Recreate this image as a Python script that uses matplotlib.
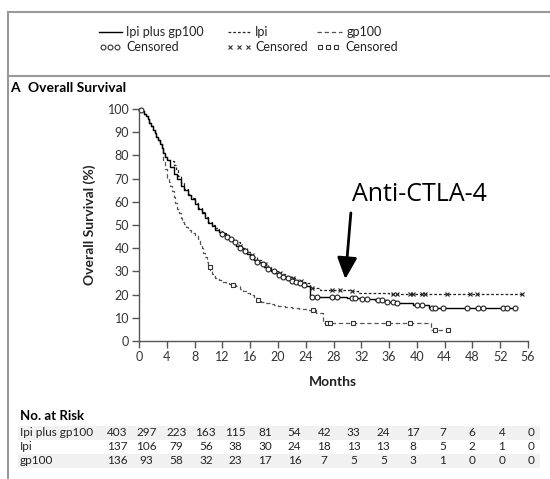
import numpy as np
import matplotlib.pyplot as plt
from matplotlib.lines import Line2D

plt.rcParams['font.family'] = ['Lato', 'DejaVu Sans']

# Kaplan-Meier curves (months, survival %)
ipi_gp_t = [0, 0.25, 0.5, 0.75, 1, 1.25, 1.5, 1.75, 2, 2.25, 2.5, 2.75, 3, 3.25, 3.5, 3.75, 4,
            4.5, 5, 5.5, 6, 6.5, 7, 7.5, 8, 8.5, 9, 9.5, 10, 10.5, 11, 11.5, 12, 12.5, 13, 13.5,
            14, 14.5, 15, 15.5, 16, 16.5, 17, 17.5, 18, 18.5, 19, 19.5, 20, 20.5, 21, 21.5, 22,
            22.5, 23, 23.5, 24, 24.6, 30, 32, 34, 35.5, 37, 39.5, 41.8, 54.4]
ipi_gp_s = [100, 99.5, 99, 98, 97, 95.5, 94, 92.5, 91, 89.5, 88, 86.5, 85, 83, 81, 79.5, 78,
            75, 72, 70, 67, 65, 63, 61, 59, 57, 55, 53, 51, 49.5, 48, 47, 46, 45, 44, 42.5,
            41, 40, 39, 37.5, 36, 35, 34, 33, 32, 31, 30, 29.2, 28.5, 27.7, 27, 26.5, 26,
            25.5, 25, 24.2, 23.5, 19, 18.5, 18, 17.5, 16.8, 16.4, 15.5, 14.2, 14.2]

ipi_t = [0, 0.25, 0.5, 0.75, 1, 1.25, 1.5, 1.75, 2, 2.25, 2.5, 2.75, 3, 3.25, 3.5, 3.75, 4,
         4.5, 5, 5.3, 5.6, 6, 6.5, 7, 7.5, 8, 8.5, 9, 9.5, 10, 10.5, 11, 11.5, 12, 12.5, 13,
         13.5, 14, 14.5, 15, 15.5, 16, 16.5, 17, 17.5, 18, 18.5, 19, 19.5, 20, 20.5, 21, 21.5,
         22, 22.5, 23, 23.5, 24, 24.6, 26, 30.5, 31.5, 36, 55.1]
ipi_s = [100, 99.5, 99, 98, 97, 95.5, 94, 92.5, 91, 89.5, 88, 86.5, 85, 83, 81, 79.5, 78,
         77.5, 76, 74, 71, 68, 65.5, 63.5, 61.5, 59.5, 57.5, 55.5, 53.5, 51.5, 50, 48.5, 47.5,
         46.5, 45.5, 44.5, 43.5, 42.5, 41, 40, 38.5, 37, 36, 35, 34, 33, 32, 31, 30.2, 29.5,
         28.7, 28, 27.5, 27, 26.5, 26, 25.5, 25, 23, 22, 21.5, 20.7, 20.3, 20.3]

gp_t = [0, 0.25, 0.5, 0.75, 1, 1.25, 1.5, 1.75, 2, 2.25, 2.5, 2.75, 3, 3.25, 3.5, 3.75, 4,
        4.25, 4.5, 4.75, 5, 5.25, 5.5, 5.75, 6, 6.25, 6.5, 6.75, 7, 7.5, 8, 8.5, 8.75, 9, 9.25,
        9.5, 9.75, 10, 10.25, 10.5, 10.75, 11, 11.5, 12, 12.5, 13, 13.5, 14, 14.5, 15, 15.5,
        16, 16.5, 17, 17.5, 18, 18.5, 19, 19.5, 20, 21, 22, 23, 24, 25.5, 26.5, 42, 44.8]
gp_s = [100, 99.5, 99, 98, 97, 95.5, 94, 92.5, 91, 89.5, 88, 86.5, 85, 83, 78, 74, 70,
        68.5, 67, 64.5, 62, 59.5, 57, 55, 53, 51.5, 50.5, 49, 48, 46.5, 45.5, 44, 42, 40, 38,
        36, 34, 32, 30.5, 29, 28, 27, 26.3, 25.5, 25, 24.5, 24, 23.5, 22.5, 21.5, 20.8,
        20, 18.8, 17.5, 17, 16.5, 16.2, 15.8, 15.4, 15, 14.6, 14.2, 13.8, 13.4, 12, 7.8, 4.7, 4.7]

# censored times
ipi_gp_cens = [0.3, 12, 12.6, 13.2, 13.8, 14.5, 15.3, 16.2, 17, 17.8, 18.6, 19.4, 20.2, 20.8, 21.4,
               22, 22.6, 23.2, 23.8, 24.9, 25.6, 27.8, 28.5, 30.7, 31.1, 32.1, 32.8, 34.4, 35.0,
               35.7, 36.6, 37.2, 40.0, 40.8, 42.2, 42.6, 43.8, 47.2, 48.8, 49.5, 52.4, 53.0, 54.1]
ipi_cens = [14.5, 16.3, 18.2, 20.3, 22.1, 23.3, 24.9, 27.8, 28.9, 30.7, 36.6, 37.2, 39.0, 39.5,
            40.8, 41.2, 44.3, 47.7, 48.7, 55.1]
gp_cens = [10.2, 13.5, 17.2, 25.1, 27.1, 27.5, 30.8, 35.9, 39.0, 42.6, 44.5]

months_ticks = list(range(0, 57, 4))
surv_ticks = list(range(0, 101, 10))

risk_labels = ['Ipi plus gp100', 'Ipi', 'gp100']
risk_ipi_gp = [403, 297, 223, 163, 115, 81, 54, 42, 33, 24, 17, 7, 6, 4, 0]
risk_ipi = [137, 106, 79, 56, 38, 30, 24, 18, 13, 13, 8, 5, 2, 1, 0]
risk_gp = [136, 93, 58, 32, 23, 17, 16, 7, 5, 5, 3, 1, 0, 0, 0]


def surv_at(times, t, s):
    idx = np.searchsorted(t, times, side='right') - 1
    return np.array(s)[idx]


fig = plt.figure(figsize=(5.5, 4.79), dpi=100)

# overlay in pixel coords for frame, legend and risk table
ov = fig.add_axes([0, 0, 1, 1])
ov.set_xlim(0, 550)
ov.set_ylim(479, 0)
ov.axis('off')

ax = fig.add_axes([139 / 550, 1 - 341 / 479, 389 / 550, 232 / 479])

frame_c = '#9a9a9a'
ov.plot([8, 8], [12, 479], color=frame_c, lw=1.5)
ov.plot([8, 550], [12, 12], color=frame_c, lw=1.5)
ov.plot([8, 550], [76, 76], color=frame_c, lw=1.5)

styles = {
    'solid': dict(color='black', lw=1.0, ls='-'),
    'ipi': dict(color='#222222', lw=0.9, ls=(0, (2.2, 1.6))),
    'gp': dict(color='#555555', lw=0.9, ls=(0, (3.5, 2.2))),
}

# legend
ov.add_line(Line2D([99, 122], [32, 32], **styles['solid']))
ov.add_line(Line2D([228, 250], [32, 32], **styles['ipi']))
ov.add_line(Line2D([317, 342], [32, 32], **styles['gp']))
ov.text(126, 32, 'Ipi plus gp100', fontsize=9, va='center', color='#222')
ov.text(255, 32, 'Ipi', fontsize=9, va='center', color='#222')
ov.text(347, 32, 'gp100', fontsize=9, va='center', color='#222')
ov.plot([103, 110, 117], [47, 47, 47], ls='none', marker='o', ms=3.5, mfc='white', mec='#333', mew=0.8)
ov.plot([230, 239, 248], [47, 47, 47], ls='none', marker='x', ms=3, mec='#333', mew=0.8)
ov.plot([320, 328, 336], [47, 47, 47], ls='none', marker='s', ms=3.2, mfc='white', mec='#333', mew=0.8)
for x0 in [126, 255, 345]:
    ov.text(x0, 47, 'Censored', fontsize=9, va='center', color='#222')

ov.text(10, 88, 'A', fontsize=10, fontweight='bold', va='center')
ov.text(28, 88, 'Overall Survival', fontsize=10, fontweight='bold', va='center')
ov.text(90, 225, 'Overall Survival (%)', fontsize=10, fontweight='bold', rotation=90,
        ha='center', va='center', color='#222')
ov.text(333, 382, 'Months', fontsize=10, fontweight='bold', ha='center', va='center', color='#222')

# curves
ax.plot(gp_t, gp_s, drawstyle='steps-post', clip_on=False, **styles['gp'])
ax.plot(ipi_t, ipi_s, drawstyle='steps-post', clip_on=False, **styles['ipi'])
ax.plot(ipi_gp_t, ipi_gp_s, drawstyle='steps-post', clip_on=False, **styles['solid'])
ax.plot(gp_cens, surv_at(gp_cens, gp_t, gp_s), ls='none', marker='s', ms=3.2, mfc='white',
        mec='#333', mew=0.8, clip_on=False)
ax.plot(ipi_cens, surv_at(ipi_cens, ipi_t, ipi_s), ls='none', marker='x', ms=3, mec='#222',
        mew=0.8, clip_on=False)
ax.plot(ipi_gp_cens, surv_at(ipi_gp_cens, ipi_gp_t, ipi_gp_s), ls='none', marker='o', ms=3.5,
        mfc='white', mec='#222', mew=0.8, clip_on=False)

ax.set_xlim(0, 56)
ax.set_ylim(0, 100)
ax.set_xticks(months_ticks)
ax.set_yticks(surv_ticks)
for side in ['top', 'right']:
    ax.spines[side].set_visible(False)
for side in ['left', 'bottom']:
    ax.spines[side].set_color('#555')
    ax.spines[side].set_linewidth(1)
ax.tick_params(direction='out', length=5, width=1, color='#555', labelsize=9, labelcolor='#333', pad=2)
ax.patch.set_alpha(0)

# annotation
ax.annotate('', xy=(29.7, 26.7), xytext=(30.5, 55.2),
            arrowprops=dict(arrowstyle='-|>,head_length=0.65,head_width=0.3', lw=2,
                            color='black', mutation_scale=20, shrinkA=0, shrinkB=0))
ax.text(40.3, 63, 'Anti-CTLA-4', fontsize=18, family=['Open Sans', 'DejaVu Sans'],
        ha='center', va='center')

# number at risk table
ov.text(20, 416, 'No. at Risk', fontsize=9.5, fontweight='bold', va='center')
row_y = [433, 447, 461]
for y in [row_y[0], row_y[2]]:
    ov.fill_between([18, 540], y - 7, y + 7, color='#f1f1f1', lw=0)
for y, label, vals in zip(row_y, risk_labels, [risk_ipi_gp, risk_ipi, risk_gp]):
    ov.text(20, y, label, fontsize=8.5, va='center', color='#222')
    for i, v in enumerate(vals):
        ov.text(117 + i * 29.6, y, str(v), fontsize=8.5, va='center', ha='center', color='#222')

fig.savefig('out.png', dpi=100)
